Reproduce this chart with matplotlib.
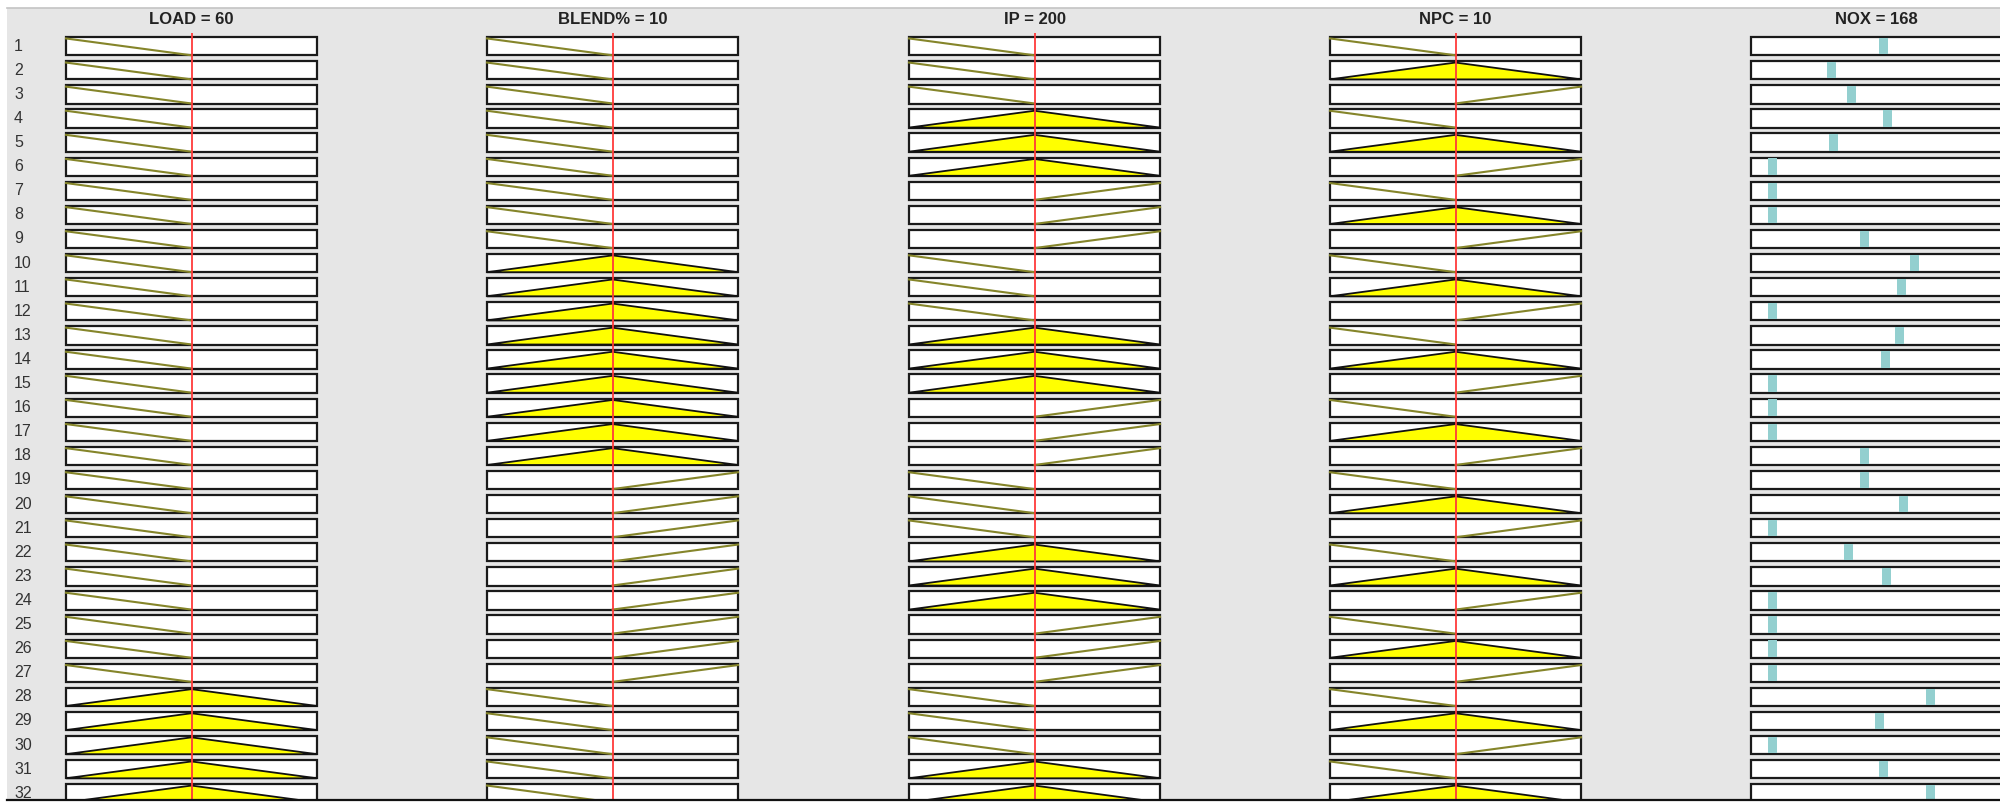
import matplotlib
matplotlib.use("Agg")
import matplotlib.pyplot as plt
from matplotlib.patches import Rectangle
from matplotlib import transforms

plt.rcParams['font.family'] = ['Liberation Sans', 'DejaVu Sans']

# fuzzy rule viewer data: membership function used by each rule (L=low, M=medium, H=high)
rules = list(range(1, 33))
load_mf = ['L'] * 27 + ['M'] * 5
blend_mf = ['L'] * 9 + ['M'] * 9 + ['H'] * 9 + ['L'] * 5
ip_mf = ['L', 'L', 'L', 'M', 'M', 'M', 'H', 'H', 'H'] * 3 + ['L', 'L', 'L', 'M', 'M']
npc_mf = ['L', 'M', 'H'] * 10 + ['L', 'M']

input_names = ['LOAD', 'BLEND%', 'IP', 'NPC']
input_ranges = [(20, 100), (0, 20), (180, 220), (0, 20)]
input_values = [60, 10, 200, 10]
input_mfs = [load_mf, blend_mf, ip_mf, npc_mf]

nox_range = (0, 251)
nox_value = 168
nox_rule_out = [132, 80, 100, 136, 82, 21, 21, 21, 113, 163, 150, 21, 148, 134, 21, 21,
                21, 113, 113, 152, 21, 97, 135, 21, 21, 21, 21, 179, 128, 21, 132, 179]

# layout (pixels)
W, H = 2007, 809
col_left = [66, 487, 909, 1330, 1751]
box_w = 251
ax_top, ax_bot = 33, 800
row1_top = 37
pitch = 24.1
box_h = 18.3 / pitch
pad_px = 3

fig = plt.figure(figsize=(W / 100, H / 100), dpi=100)
fig.patch.set_facecolor('white')

def fx(px):
    return px / W

def fy(py):
    return 1 - py / H

# gray panel
fig.add_artist(Rectangle((fx(7), fy(800)), fx(2000) - fx(7), fy(8) - fy(800),
                         transform=fig.transFigure, facecolor='#e6e6e6', edgecolor='none', zorder=-5))
fig.add_artist(plt.Line2D([fx(7), fx(2000)], [fy(8), fy(8)], transform=fig.transFigure,
                          color='#c4c4c4', lw=1.2, zorder=-4))

ylim_top = -(row1_top - ax_top) / pitch
ylim_bot = (ax_bot - row1_top) / pitch


def make_axes(x0, lo, hi):
    pad = pad_px * (hi - lo) / box_w
    ax = fig.add_axes([fx(x0 - pad_px), fy(ax_bot), (box_w + 2 * pad_px) / W, (ax_bot - ax_top) / H])
    ax.set_xlim(lo - pad, hi + pad)
    ax.set_ylim(ylim_bot, ylim_top)
    ax.axis('off')
    return ax


def box(ax, lo, hi, n):
    ax.add_patch(Rectangle((lo, n - 1), hi - lo, box_h, facecolor='white',
                           edgecolor='#1a1a1a', lw=1.6, zorder=1))


axes = []
for name, (lo, hi), val, mfs, x0 in zip(input_names, input_ranges, input_values, input_mfs, col_left):
    ax = make_axes(x0, lo, hi)
    axes.append(ax)
    mid = (lo + hi) / 2
    for n, mf in zip(rules, mfs):
        box(ax, lo, hi, n)
        top = n - 1 + 0.06
        bot = n - 1 + box_h
        if mf == 'L':
            ax.plot([lo, mid], [top, bot], color='#85852a', lw=1.5, zorder=2)
        elif mf == 'H':
            ax.plot([mid, hi], [bot, top], color='#85852a', lw=1.5, zorder=2)
        else:
            ax.fill([lo, mid, hi], [bot, top, bot], facecolor='#ffff00', edgecolor='#111111',
                    lw=1.3, zorder=2)
    ax.axvline(val, color='#ff3a3a', lw=1.3, zorder=5)
    fig.text(fx(x0 + box_w / 2), fy(20), f'{name} = {val}', ha='center', va='center',
             fontsize=12, fontweight='bold', color='#222222')

# output column
lo, hi = nox_range
ax = make_axes(col_left[4], lo, hi)
for n, v in zip(rules, nox_rule_out):
    box(ax, lo, hi, n)
    ax.add_patch(Rectangle((v - 4.5, n - 1 + 0.04), 9, box_h - 0.08, facecolor='#93cfcf',
                           edgecolor='none', zorder=2))
fig.text(fx(col_left[4] + box_w / 2), fy(20), f'NOX = {nox_value}', ha='center', va='center',
         fontsize=12, fontweight='bold', color='#222222')

# rule numbers
tr = transforms.blended_transform_factory(fig.transFigure, axes[0].transData)
for n in rules:
    fig.text(fx(14), n - 1 + box_h / 2, str(n), transform=tr, ha='left', va='center',
             fontsize=11.5, color='#333333')

# bottom rule and right margin
fig.add_artist(plt.Line2D([fx(7), fx(2000)], [fy(800), fy(800)], transform=fig.transFigure,
                          color='#111111', lw=1.6, zorder=20))
fig.add_artist(Rectangle((fx(2000), 0), 1 - fx(2000), 1, transform=fig.transFigure,
                         facecolor='white', edgecolor='none', zorder=20))

fig.savefig('out.png', dpi=100)
